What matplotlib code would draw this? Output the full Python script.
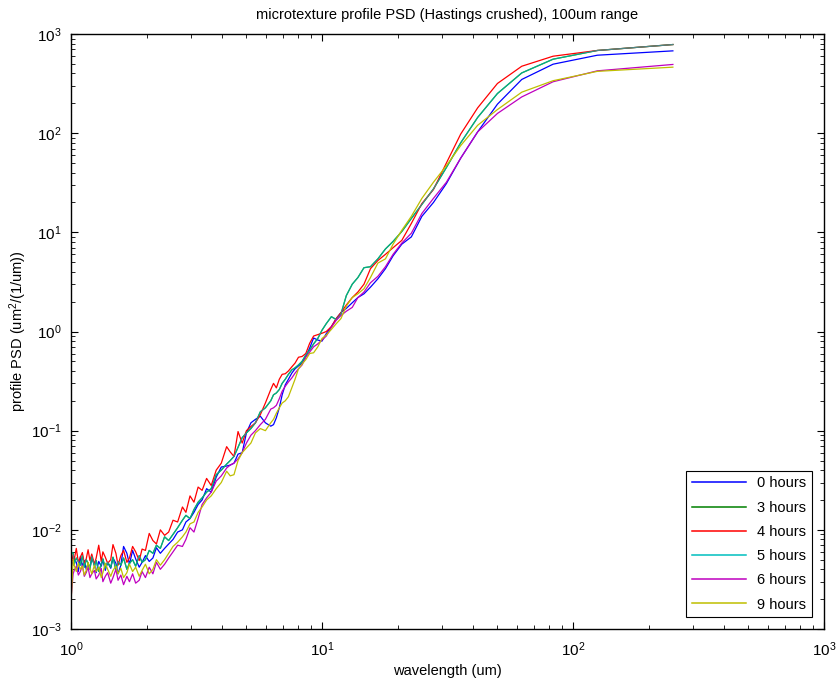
import numpy as np
from matplotlib import pyplot as plt

# wavelength grid (um), shared by every trace
wavelength = [250, 125, 83.3, 62.5, 50, 41.7, 35.7, 31.3, 27.8, 25,
              22.7, 20.8, 19.2, 17.9, 16.7, 15.6, 14.7, 13.9, 13.2, 12.5,
              11.9, 11.4, 10.9, 10.4, 10.0, 9.62, 9.26, 8.93, 8.62, 8.33,
              8.06, 7.81, 7.58, 7.35, 7.14, 6.94, 6.76, 6.58, 6.41, 6.25,
              5.95, 5.68, 5.43, 5.21, 5.00, 4.81, 4.63, 4.46, 4.31, 4.17,
              3.97, 3.79, 3.62, 3.47, 3.33, 3.21, 3.09, 2.98, 2.87, 2.78,
              2.66, 2.55, 2.45, 2.36, 2.27, 2.19, 2.12, 2.05, 1.98, 1.92,
              1.87, 1.81, 1.76, 1.71, 1.67, 1.62, 1.58, 1.54, 1.51, 1.47,
              1.44, 1.40, 1.37, 1.34, 1.32, 1.29, 1.26, 1.24, 1.21, 1.19,
              1.17, 1.15, 1.13, 1.11, 1.09, 1.07, 1.05, 1.03, 1.02, 1.00]

psd_0h = [676, 611, 496, 348, 196, 103, 56, 31, 20, 14.5,
          9.0, 7.6, 5.8, 4.3, 3.4, 2.8, 2.4, 2.2, 1.95, 1.71,
          1.55, 1.35, 1.12, 0.95, 0.80, 0.82, 0.86, 0.68, 0.56, 0.48,
          0.45, 0.42, 0.38, 0.33, 0.29, 0.23, 0.17, 0.135, 0.115, 0.111,
          0.12, 0.14, 0.13, 0.12, 0.095, 0.060, 0.058, 0.047, 0.045, 0.044,
          0.043, 0.034, 0.024, 0.026, 0.020, 0.018, 0.015, 0.013, 0.012, 0.010,
          0.0095, 0.0080, 0.0072, 0.0065, 0.0058, 0.0066, 0.0052, 0.0048, 0.0055, 0.0047,
          0.0042, 0.0051, 0.0062, 0.0045, 0.0058, 0.0068, 0.0044, 0.0036, 0.0046, 0.0052,
          0.0041, 0.0047, 0.0039, 0.0050, 0.0043, 0.0048, 0.0037, 0.0045, 0.0052, 0.0041,
          0.0046, 0.0040, 0.0049, 0.0043, 0.0054, 0.0038, 0.0047, 0.0051, 0.0044, 0.0052]

psd_4h = [783, 682, 597, 473, 317, 180, 98, 50, 27, 19.5,
          12.3, 8.3, 7.0, 6.0, 5.2, 4.3, 3.0, 2.5, 2.2, 1.85,
          1.55, 1.35, 1.12, 1.0, 0.96, 0.93, 0.90, 0.76, 0.60, 0.56,
          0.55, 0.48, 0.44, 0.40, 0.375, 0.37, 0.33, 0.27, 0.30, 0.26,
          0.19, 0.145, 0.12, 0.11, 0.10, 0.075, 0.098, 0.055, 0.061, 0.069,
          0.047, 0.040, 0.028, 0.033, 0.025, 0.027, 0.019, 0.022, 0.015, 0.017,
          0.012, 0.0125, 0.0095, 0.0088, 0.010, 0.0072, 0.0078, 0.0092, 0.0062, 0.0064,
          0.0049, 0.0060, 0.0068, 0.0052, 0.0047, 0.0062, 0.0055, 0.0044, 0.0058, 0.0071,
          0.0050, 0.0046, 0.0053, 0.0060, 0.0048, 0.0070, 0.0052, 0.0045, 0.0057, 0.0049,
          0.0063, 0.0051, 0.0046, 0.0059, 0.0053, 0.0047, 0.0065, 0.0050, 0.0056, 0.0044]

psd_5h = [783, 682, 557, 405, 251, 144, 80, 45, 27.4, 19.1,
          13.8, 10.2, 8.1, 6.8, 5.4, 4.5, 4.4, 3.5, 3.0, 2.3,
          1.5, 1.32, 1.41, 1.2, 1.03, 0.85, 0.75, 0.65, 0.58, 0.50,
          0.46, 0.43, 0.41, 0.37, 0.33, 0.30, 0.26, 0.24, 0.23, 0.20,
          0.17, 0.155, 0.12, 0.105, 0.095, 0.085, 0.068, 0.055, 0.050, 0.046,
          0.040, 0.036, 0.026, 0.024, 0.021, 0.019, 0.016, 0.013, 0.014, 0.0125,
          0.0105, 0.0090, 0.0078, 0.0085, 0.0065, 0.0070, 0.0058, 0.0062, 0.0050, 0.0047,
          0.0055, 0.0043, 0.0050, 0.0046, 0.0040, 0.0052, 0.0044, 0.0048, 0.0039, 0.0053,
          0.0042, 0.0047, 0.0041, 0.0051, 0.0045, 0.0038, 0.0049, 0.0043, 0.0054, 0.0040,
          0.0046, 0.0050, 0.0042, 0.0055, 0.0044, 0.0048, 0.0052, 0.0045, 0.0058, 0.0060]

# the 3 hour trace lies on top of the 5 hour trace over the whole range
psd_3h = list(psd_5h)

psd_6h = [493, 425, 330, 232, 158, 103, 56, 32, 22, 15.5,
          9.8, 7.8, 6.0, 4.5, 3.6, 3.1, 2.5, 2.2, 1.75, 1.6,
          1.45, 1.3, 1.1, 0.9, 0.82, 0.75, 0.70, 0.62, 0.55, 0.46,
          0.42, 0.38, 0.34, 0.31, 0.28, 0.25, 0.21, 0.18, 0.17, 0.165,
          0.13, 0.115, 0.10, 0.09, 0.075, 0.060, 0.052, 0.047, 0.045, 0.042,
          0.035, 0.031, 0.024, 0.021, 0.018, 0.013, 0.0095, 0.0105, 0.0080, 0.0068,
          0.0070, 0.0060, 0.0052, 0.0045, 0.0040, 0.0047, 0.0036, 0.0042, 0.0033, 0.0038,
          0.0031, 0.0029, 0.0036, 0.0030, 0.0034, 0.0028, 0.0035, 0.0031, 0.0040, 0.0033,
          0.0029, 0.0037, 0.0034, 0.0030, 0.0041, 0.0035, 0.0032, 0.0039, 0.0036, 0.0033,
          0.0042, 0.0037, 0.0034, 0.0044, 0.0038, 0.0035, 0.0043, 0.0039, 0.0036, 0.0020]

psd_9h = [463, 420, 338, 259, 173, 120, 75, 47, 32, 22,
          14.5, 10.5, 7.6, 5.4, 4.9, 3.5, 2.7, 2.4, 2.2, 1.8,
          1.35, 1.2, 1.05, 0.92, 0.85, 0.70, 0.61, 0.60, 0.52, 0.47,
          0.42, 0.33, 0.27, 0.22, 0.20, 0.19, 0.17, 0.15, 0.13, 0.12,
          0.10, 0.105, 0.095, 0.075, 0.067, 0.060, 0.050, 0.036, 0.035, 0.039,
          0.030, 0.026, 0.022, 0.020, 0.017, 0.015, 0.012, 0.0115, 0.0095, 0.0085,
          0.0075, 0.0068, 0.0058, 0.0050, 0.0044, 0.0050, 0.0040, 0.0036, 0.0045, 0.0039,
          0.0034, 0.0042, 0.0038, 0.0045, 0.0037, 0.0033, 0.0041, 0.0036, 0.0043, 0.0039,
          0.0034, 0.0040, 0.0046, 0.0037, 0.0033, 0.0042, 0.0038, 0.0044, 0.0036, 0.0041,
          0.0047, 0.0039, 0.0035, 0.0043, 0.0040, 0.0046, 0.0038, 0.0044, 0.0050, 0.0018]

labels = ["0 hours", "3 hours", "4 hours", "5 hours", "6 hours", "9 hours"]
colors = ["#0000ff", "#008000", "#ff0000", "#00bfbf", "#bf00bf", "#bfbf00"]

plt.rcParams['font.family'] = ['Liberation Sans', 'DejaVu Sans']
plt.rcParams['mathtext.default'] = 'regular'
plt.rcParams['axes.unicode_minus'] = False

fig = plt.figure(figsize=(8.38, 6.84), dpi=100)
ax = fig.add_axes([0.0847, 0.0804, 0.8986, 0.8699])

series = [psd_0h, psd_3h, psd_4h, psd_5h, psd_6h, psd_9h]
for vals, lab, col in zip(series, labels, colors):
	a = 0.7 if lab == "5 hours" else 1.0
	ax.plot(wavelength, vals, color=col, lw=0.9, label=lab, alpha=a)

ax.set_xscale('log')
ax.set_yscale('log')
ax.set_xlim(1, 1000)
ax.set_ylim(1e-3, 1e3)

ax.tick_params(which='both', direction='in', top=True, right=True, labelsize=11)
ax.tick_params(axis='x', which='major', pad=8)
ax.tick_params(axis='y', which='major', pad=7)
ax.tick_params(which='major', length=5)
ax.tick_params(which='minor', length=3)
for s in ax.spines.values():
	s.set_linewidth(1.0)

ax.set_title("microtexture profile PSD (Hastings crushed), 100um range", fontsize=10.5, pad=11)
ax.set_xlabel("wavelength (um)", fontsize=10.5, labelpad=4)
ax.set_ylabel("profile PSD (um$^2$/(1/um))", fontsize=10.5, labelpad=1)

leg = ax.legend(loc='lower right', fancybox=False, framealpha=1, edgecolor='black',
	fontsize=10.5, handlelength=3.7, labelspacing=0.7, borderaxespad=0.8)
leg.get_frame().set_linewidth(0.8)
for h, col in zip(leg.get_lines(), colors):
	h.set_alpha(1.0)
	h.set_color(col)
	h.set_linewidth(1.1)

fig.savefig("out.png", dpi=100)
